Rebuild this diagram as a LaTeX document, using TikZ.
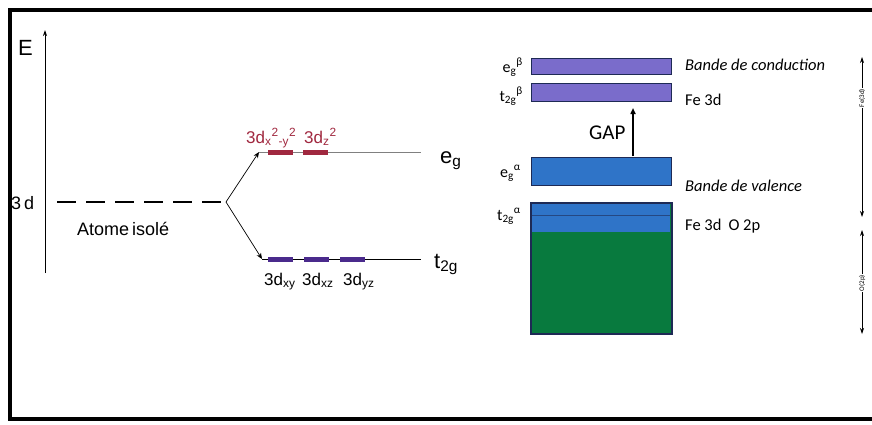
\documentclass[tikz,border=0pt]{standalone}
\usepackage{fontspec}
\setmainfont{Liberation Sans}
\newfontfamily\calib{Carlito}
\usetikzlibrary{arrows.meta}
\definecolor{egred}{HTML}{A0283F}
\definecolor{tpurple}{HTML}{4A2A8C}
\definecolor{condband}{HTML}{7A6CCB}
\definecolor{valband}{HTML}{2F74C8}
\definecolor{oband}{HTML}{087A3E}
\definecolor{bandedge}{HTML}{1E2A55}
\tikzset{
  lvlbar/.style={line width=5pt},
  split/.style={-{Stealth[length=6pt,width=5pt]}, line width=0.7pt},
  band/.style={draw=bandedge, line width=1.2pt},
  lbl/.style={inner sep=0pt, anchor=base west},
  orb/.style={lbl, font=\fontsize{17}{17}\selectfont},
  blbl/.style={inner sep=0pt, anchor=base east, font=\calib\fontsize{16}{16}\selectfont},
  rlbl/.style={inner sep=0pt, anchor=base west, font=\calib\fontsize{16.5}{17}\selectfont},
  span/.style={{Stealth[length=6pt,width=4pt]}-{Stealth[length=6pt,width=4pt]}, line width=0.7pt}
}
\begin{document}
\begin{tikzpicture}[x=1pt, y=-1pt]
\useasboundingbox (0,0) rectangle (872,424);
% frame
\draw[line width=4pt] (874,10) -- (10,10) -- (10,419) -- (874,419);
% energy axis
\coordinate (axb) at (45,273);
\coordinate (axt) at (45,30);
\draw[-{Stealth[length=6pt,width=4pt]}, line width=0.8pt] (axb) -- (axt);
\node[lbl, font=\fontsize{22}{22}\selectfont] (E) at (18,55) {E};
\node[lbl, font=\fontsize{18}{18}\selectfont] (d3) at (11,209) {3\,d};
% isolated atom level
\coordinate (lvl0) at (57,202);
\coordinate (fork) at (226,202);
\draw[line width=1.6pt, dash pattern=on 19pt off 10pt] (lvl0) -- (fork);
\node[lbl, font=\fontsize{18}{18}\selectfont] (atom) at (77,235) {Atome\,isolé};
% eg and t2g levels
\coordinate (egs) at (259,152);
\coordinate (ege) at (421,152);
\coordinate (ts) at (262,259);
\coordinate (te) at (421,259);
\draw[split] (fork) -- (egs);
\draw[split] (fork) -- (ts);
\draw[gray, line width=0.5pt] (egs) -- (ege);
\draw[line width=0.8pt] (ts) -- (te);
\draw[lvlbar, egred] (268,152) -- (293,152);
\draw[lvlbar, egred] (303,152) -- (328,152);
\draw[lvlbar, tpurple] (268,259) -- (293,259);
\draw[lvlbar, tpurple] (304,259) -- (329,259);
\draw[lvlbar, tpurple] (340,259) -- (365,259);
\node[orb, egred] (dx2) at (246,143) {3d\textsubscript{x}\textsuperscript{2}\textsubscript{-y}\textsuperscript{2}};
\node[orb, egred] (dz2) at (304,143) {3d\textsubscript{z}\textsuperscript{2}};
\node[orb] (dxy) at (264,285) {3d\textsubscript{xy}};
\node[orb] (dxz) at (302,285) {3d\textsubscript{xz}};
\node[orb] (dyz) at (343,285) {3d\textsubscript{yz}};
\node[lbl, font=\fontsize{22}{22}\selectfont] (eg) at (440,163) {e\textsubscript{g}};
\node[lbl, font=\fontsize{22}{22}\selectfont] (t2g) at (434,268) {t\textsubscript{2g}};
% bands
\node[band, fill=condband, minimum width=140pt, minimum height=16pt, inner sep=0pt, anchor=north west] (egb) at (531,58) {};
\node[band, fill=condband, minimum width=140pt, minimum height=18pt, inner sep=0pt, anchor=north west] (t2gb) at (531,83) {};
\node[band, fill=valband, minimum width=140pt, minimum height=28pt, inner sep=0pt, anchor=north west] (ega) at (531,157) {};
\node[band, fill=oband, minimum width=140pt, minimum height=130pt, inner sep=0pt, anchor=north west] (t2ga) at (531,203) {};
\fill[valband] (532,204) rectangle (670,232);
\draw[bandedge!60!valband, line width=1pt] (531.6,215) -- (670.4,215);
\draw[band] (t2ga.north west) rectangle (t2ga.south east);
% gap
\coordinate (gapb) at (633,156);
\coordinate (gapt) at (633,108);
\draw[-{Triangle[length=6pt,width=5pt]}, line width=1.8pt] (gapb) -- (gapt);
\node[lbl, font=\calib\fontsize{21}{21}\selectfont] (gap) at (589,139) {GAP};
% band labels
\node[blbl] (l1) at (523,72) {e\textsubscript{g}\textsuperscript{β}};
\node[blbl] (l2) at (523,101) {t\textsubscript{2g}\textsuperscript{β}};
\node[blbl] (l3) at (521,177) {e\textsubscript{g}\textsuperscript{α}};
\node[blbl] (l4) at (521,220) {t\textsubscript{2g}\textsuperscript{α}};
\node[rlbl, font=\calib\itshape\fontsize{16.5}{17}\selectfont] (r1) at (685,70) {Bande de conduction};
\node[rlbl] (r2) at (685,105) {Fe 3d};
\node[rlbl, font=\calib\itshape\fontsize{16.5}{17}\selectfont] (r3) at (685,191) {Bande de valence};
\node[rlbl] (r4) at (685,230) {Fe 3d\hspace{7pt}O 2p};
% ranges
\coordinate (s1t) at (862,57);
\coordinate (s1b) at (862,217);
\coordinate (s2t) at (862,230);
\coordinate (s2b) at (862,334);
\draw[span] (s1t) -- (s1b);
\draw[span] (s2t) -- (s2b);
\node[fill=white, inner sep=0.5pt, rotate=90, font=\calib\fontsize{7}{7}\selectfont] (f1) at (862,98) {Fe(3d)};
\node[fill=white, inner sep=0.5pt, rotate=90, font=\calib\fontsize{7}{7}\selectfont] (f2) at (862,283) {O(2p)};
\end{tikzpicture}
\end{document}
